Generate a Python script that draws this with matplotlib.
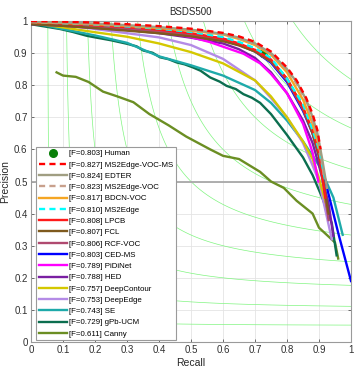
import matplotlib as mpl

mpl.use("Agg")
import matplotlib.pyplot as plt
import numpy as np

plt.rcParams["font.family"] = ["Liberation Sans", "DejaVu Sans"]

# ---- data ----
HUMAN_R = [0.725]
HUMAN_P = [0.90]
HUMAN_F = 0.803

METHODS = ["MS2Edge-VOC-MS", "EDTER", "MS2Edge-VOC", "BDCN-VOC", "MS2Edge", "LPCB", "FCL",
           "RCF-VOC", "CED-MS", "PiDiNet", "HED", "DeepContour", "DeepEdge", "SE", "gPb-UCM", "Canny"]
F_SCORES = [0.827, 0.824, 0.823, 0.817, 0.810, 0.808, 0.807, 0.806, 0.803, 0.789, 0.788, 0.757,
            0.753, 0.743, 0.729, 0.611]

ms2edge_voc_ms_r = [0.0, 0.1, 0.2, 0.3, 0.4, 0.5, 0.6, 0.65, 0.7, 0.75, 0.8, 0.83, 0.86, 0.88, 0.895, 0.905]
ms2edge_voc_ms_p = [1.0, 0.998, 0.995, 0.99, 0.984, 0.976, 0.963, 0.952, 0.935, 0.905, 0.855, 0.815, 0.76, 0.71, 0.66, 0.60]

edter_r = [0.0, 0.1, 0.2, 0.3, 0.4, 0.5, 0.6, 0.65, 0.7, 0.75, 0.8, 0.83, 0.86, 0.88, 0.895, 0.91, 0.925]
edter_p = [0.998, 0.995, 0.992, 0.987, 0.981, 0.973, 0.96, 0.948, 0.93, 0.90, 0.85, 0.81, 0.755, 0.70, 0.65, 0.57, 0.48]

ms2edge_voc_r = [0.0, 0.1, 0.2, 0.3, 0.4, 0.5, 0.6, 0.65, 0.7, 0.75, 0.8, 0.83, 0.86, 0.88, 0.9, 0.915]
ms2edge_voc_p = [0.998, 0.995, 0.991, 0.986, 0.98, 0.972, 0.958, 0.946, 0.928, 0.898, 0.848, 0.805, 0.75, 0.69, 0.62, 0.52]

bdcn_voc_r = [0.0, 0.1, 0.2, 0.3, 0.4, 0.5, 0.6, 0.65, 0.7, 0.75, 0.8, 0.85, 0.88, 0.9, 0.905]
bdcn_voc_p = [0.997, 0.994, 0.99, 0.985, 0.978, 0.97, 0.958, 0.944, 0.925, 0.895, 0.84, 0.755, 0.68, 0.61, 0.585]

ms2edge_r = [0.0, 0.1, 0.2, 0.3, 0.4, 0.5, 0.6, 0.65, 0.7, 0.75, 0.8, 0.85, 0.88, 0.9, 0.92]
ms2edge_p = [0.997, 0.993, 0.989, 0.983, 0.976, 0.966, 0.95, 0.935, 0.915, 0.885, 0.82, 0.74, 0.66, 0.60, 0.50]

lpcb_r = [0.0, 0.1, 0.2, 0.3, 0.4, 0.5, 0.6, 0.65, 0.7, 0.75, 0.8, 0.85, 0.88, 0.9, 0.92]
lpcb_p = [0.996, 0.992, 0.987, 0.981, 0.973, 0.962, 0.945, 0.93, 0.91, 0.88, 0.82, 0.73, 0.66, 0.59, 0.45]

fcl_r = [0.0, 0.1, 0.2, 0.3, 0.4, 0.5, 0.6, 0.65, 0.7, 0.75, 0.8, 0.85, 0.88, 0.9, 0.93]
fcl_p = [0.99, 0.985, 0.978, 0.97, 0.962, 0.952, 0.937, 0.924, 0.905, 0.875, 0.82, 0.73, 0.65, 0.58, 0.40]

rcf_voc_r = [0.0, 0.1, 0.2, 0.3, 0.4, 0.5, 0.6, 0.65, 0.7, 0.75, 0.8, 0.85, 0.88, 0.9, 0.93]
rcf_voc_p = [0.995, 0.99, 0.984, 0.977, 0.968, 0.957, 0.94, 0.925, 0.905, 0.873, 0.815, 0.725, 0.65, 0.58, 0.38]

ced_ms_r = [0.0, 0.1, 0.2, 0.3, 0.4, 0.5, 0.6, 0.65, 0.7, 0.75, 0.8, 0.85, 0.88, 0.9, 0.93, 0.96, 1.0]
ced_ms_p = [0.996, 0.992, 0.986, 0.979, 0.97, 0.96, 0.945, 0.928, 0.905, 0.87, 0.81, 0.72, 0.65, 0.58, 0.46, 0.34, 0.19]

pidinet_r = [0.0, 0.1, 0.2, 0.3, 0.4, 0.5, 0.56, 0.6, 0.664, 0.716, 0.75, 0.8, 0.85, 0.88, 0.898]
pidinet_p = [0.995, 0.99, 0.985, 0.978, 0.968, 0.95, 0.934, 0.92, 0.898, 0.868, 0.835, 0.775, 0.68, 0.59, 0.50]

hed_r = [0.0, 0.1, 0.2, 0.3, 0.4, 0.5, 0.6, 0.65, 0.7, 0.75, 0.8, 0.85, 0.88, 0.9, 0.93, 0.945]
hed_p = [0.99, 0.985, 0.978, 0.972, 0.962, 0.948, 0.93, 0.912, 0.885, 0.84, 0.775, 0.69, 0.62, 0.55, 0.43, 0.33]

deepcontour_r = [0.0, 0.1, 0.2, 0.3, 0.4, 0.5, 0.6, 0.7, 0.75, 0.8, 0.85, 0.88, 0.9, 0.925]
deepcontour_p = [0.995, 0.98, 0.965, 0.951, 0.93, 0.903, 0.868, 0.815, 0.765, 0.70, 0.625, 0.57, 0.51, 0.42]

deepedge_r = [0.0, 0.1, 0.2, 0.3, 0.4, 0.5, 0.6, 0.7, 0.75, 0.8, 0.85, 0.88, 0.9, 0.94]
deepedge_p = [0.995, 0.988, 0.975, 0.962, 0.949, 0.925, 0.882, 0.815, 0.76, 0.70, 0.62, 0.55, 0.50, 0.32]

se_r = [0.0, 0.1, 0.2, 0.3, 0.4, 0.5, 0.6, 0.7, 0.75, 0.8, 0.85, 0.9, 0.945, 0.974]
se_p = [0.995, 0.975, 0.955, 0.932, 0.89, 0.862, 0.83, 0.785, 0.745, 0.69, 0.625, 0.55, 0.45, 0.334]

gpb_ucm_r = [0.0, 0.03, 0.091, 0.13, 0.174, 0.2, 0.25, 0.3, 0.33, 0.351, 0.38, 0.403, 0.43, 0.455,
             0.48, 0.507, 0.53, 0.56, 0.59, 0.611, 0.64, 0.664, 0.69, 0.716, 0.75, 0.8, 0.85, 0.88,
             0.91, 0.94, 0.955]
gpb_ucm_p = [0.99, 0.985, 0.975, 0.966, 0.954, 0.949, 0.94, 0.929, 0.921, 0.908, 0.901, 0.887, 0.881,
             0.871, 0.865, 0.855, 0.845, 0.824, 0.811, 0.798, 0.788, 0.772, 0.761, 0.745, 0.71, 0.645,
             0.575, 0.52, 0.45, 0.37, 0.27]

canny_r = [0.08, 0.1, 0.14, 0.18, 0.225, 0.27, 0.32, 0.37, 0.43, 0.485, 0.56, 0.6, 0.65, 0.716,
           0.75, 0.79, 0.83, 0.88, 0.9, 0.95, 0.96]
canny_p = [0.84, 0.83, 0.826, 0.81, 0.78, 0.765, 0.747, 0.71, 0.675, 0.64, 0.60, 0.58, 0.57, 0.53,
           0.50, 0.48, 0.44, 0.40, 0.356, 0.31, 0.26]

RECALLS = [ms2edge_voc_ms_r, edter_r, ms2edge_voc_r, bdcn_voc_r, ms2edge_r, lpcb_r, fcl_r, rcf_voc_r,
           ced_ms_r, pidinet_r, hed_r, deepcontour_r, deepedge_r, se_r, gpb_ucm_r, canny_r]
PRECISIONS = [ms2edge_voc_ms_p, edter_p, ms2edge_voc_p, bdcn_voc_p, ms2edge_p, lpcb_p, fcl_p, rcf_voc_p,
              ced_ms_p, pidinet_p, hed_p, deepcontour_p, deepedge_p, se_p, gpb_ucm_p, canny_p]

COLORS = ["#ff0000", "#a09e82", "#c8a08c", "#f5a623", "#00ffff", "#ff1a1a", "#7f5a1e", "#b04a70",
          "#0000ff", "#ff00ff", "#7a1fa2", "#d4c800", "#b48be6", "#1eaaaa", "#0b6e4f", "#6b8e23"]
DASHED = {"MS2Edge-VOC-MS", "MS2Edge-VOC", "MS2Edge"}

ISO_F = [0.1, 0.2, 0.3, 0.4, 0.5, 0.6, 0.7, 0.8, 0.9]


def main():
    fig = plt.figure(figsize=(3.57, 3.72), dpi=100)
    ax = fig.add_axes([31 / 357, 1 - 342 / 372, 320 / 357, 321 / 372])

    # iso-F contours
    g = np.linspace(0.004, 1, 400)
    rr, pp = np.meshgrid(g, g)
    ff = 2 * rr * pp / (rr + pp)
    ax.contour(rr, pp, ff, levels=ISO_F, colors="#80f580", linewidths=0.5, zorder=1)
    ax.axhline(0.5, color="#a8a8a8", lw=1.3, zorder=1)

    handles = []
    human = ax.plot(HUMAN_R, HUMAN_P, "o", color="#0a800a", ms=5.5, zorder=2,
                    label=f"[F={HUMAN_F:.3f}] Human")[0]
    handles.append(human)

    n = len(METHODS)
    for i in range(n):
        name = METHODS[i]
        ls = (0, (2.6, 1.8)) if name in DASHED else "-"
        ln = ax.plot(RECALLS[i], PRECISIONS[i], color=COLORS[i], lw=1.7, ls=ls,
                     zorder=3 + (n - i), label=f"[F={F_SCORES[i]:.3f}] {name}")[0]
        handles.append(ln)

    ax.set_xlim(0, 1)
    ax.set_ylim(0, 1)
    ticks = np.round(np.arange(0, 1.01, 0.1), 1)
    labels = ["0"] + [f"{t:g}" for t in ticks[1:-1]] + ["1"]
    ax.set_xticks(ticks)
    ax.set_xticklabels(labels)
    ax.set_yticks(ticks)
    ax.set_yticklabels(labels)
    ax.grid(True, color="#e4e4e4", lw=0.6, zorder=0)
    ax.set_axisbelow(True)
    ax.tick_params(direction="in", length=2.5, width=0.6, top=True, right=True,
                   labelsize=7, colors="#555555", labelcolor="#303030", pad=2.5)
    for s in ax.spines.values():
        s.set_color("#9a9a9a")
        s.set_linewidth(0.8)

    ax.set_title("BSDS500", fontsize=7, color="#262626", pad=4)
    ax.set_xlabel("Recall", fontsize=7.5, color="#262626", labelpad=2)
    ax.set_ylabel("Precision", fontsize=7.5, color="#262626", labelpad=3)

    leg = ax.legend(handles=handles, loc="lower left", bbox_to_anchor=(0.017, 0.005),
                    borderaxespad=0, fontsize=5.7, handlelength=3.5, handletextpad=0.3,
                    labelspacing=0.47, borderpad=0.35, fancybox=False, framealpha=1,
                    edgecolor="#9a9a9a")
    leg.get_frame().set_linewidth(0.8)
    leg.set_zorder(30)

    fig.savefig("out.png", dpi=100)
    plt.close(fig)


if __name__ == "__main__":
    main()
